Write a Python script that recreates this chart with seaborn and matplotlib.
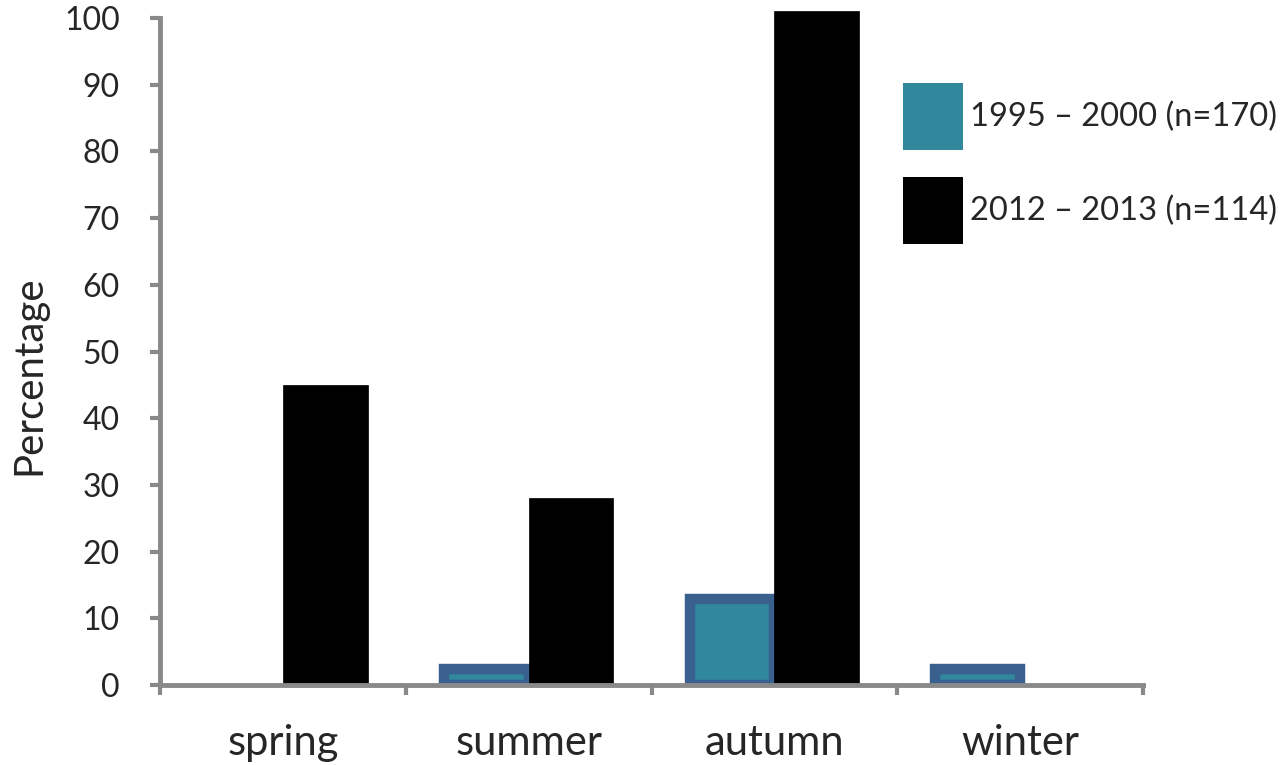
import numpy as np
import pandas as pd
import matplotlib
matplotlib.use('Agg')
import matplotlib.pyplot as plt
import seaborn as sns
from matplotlib.patches import Patch

# data
seasons = ['spring', 'summer', 'autumn', 'winter']
period_labels = ['1995 – 2000 (n=170)', '2012 – 2013 (n=114)']
pct_1995_2000 = [0, 2.4, 12.9, 2.4]
pct_2012_2013 = [45, 28, 101, 0]

df = pd.DataFrame({
    'Season': seasons * 2,
    'Period': [period_labels[0]] * 4 + [period_labels[1]] * 4,
    'Percentage': pct_1995_2000 + pct_2012_2013,
})

sns.set_style('white')
plt.rcParams['font.family'] = ['Lato', 'DejaVu Sans']

teal = '#31879C'
edge_blue = '#3A6090'
spine_grey = '#898989'

fig = plt.figure(figsize=(12.83, 7.65), dpi=100)
ax = fig.add_axes([0.1247, 0.1046, 0.7663, 0.8718])

sns.barplot(data=df, x='Season', y='Percentage', hue='Period',
            palette=[teal, 'black'], saturation=1, width=0.69, gap=0,
            legend=False, ax=ax)

# style the bars: thick blue border on the teal ones
for bar in ax.patches:
    fc = matplotlib.colors.to_hex(bar.get_facecolor())
    if bar.get_height() == 0:
        bar.set_linewidth(0)
        continue
    if fc.lower() == teal.lower():
        bar.set_edgecolor(edge_blue)
        bar.set_linewidth(7.5)
        bar.set_joinstyle('miter')
        bar.set_zorder(1.5)
        bar.set_clip_on(True)
    else:
        bar.set_edgecolor('black')
        bar.set_linewidth(0.5)
        bar.set_zorder(2)
        bar.set_clip_on(False)  # autumn bar pokes above 100

ax.set_ylim(0, 100)
ax.set_xlim(-0.5, 3.5)
ax.set_yticks(range(0, 101, 10))
ax.tick_params(axis='y', labelsize=23, length=7, width=3, color=spine_grey,
               direction='out', left=True, pad=22)

# category boundaries as major ticks, names as minor ticks
ax.set_xticks([-0.5, 0.5, 1.5, 2.5, 3.5])
ax.set_xticklabels([])
ax.set_xticks(range(4), minor=True)
ax.set_xticklabels(seasons, minor=True)
ax.tick_params(axis='x', which='major', length=7, width=3, color=spine_grey,
               direction='out', bottom=True)
ax.tick_params(axis='x', which='minor', length=0, labelsize=30, pad=28)

ax.set_xlabel('')
ax.set_ylabel('Percentage', fontsize=29)
ax.yaxis.set_label_coords(-0.115, 0.465)

for side in ['top', 'right']:
    ax.spines[side].set_visible(False)
for side in ['left', 'bottom']:
    ax.spines[side].set_color(spine_grey)
    ax.spines[side].set_linewidth(3.5)
    ax.spines[side].set_zorder(3)

handles = [Patch(facecolor=teal, edgecolor='none'),
           Patch(facecolor='black', edgecolor='none')]
fig.legend(handles, period_labels, loc='upper left',
           bbox_to_anchor=(0.7038, 0.8915), frameon=False, fontsize=23.5,
           handlelength=1.84, handleheight=2.78, handletextpad=0.2,
           labelspacing=0.83, borderaxespad=0, borderpad=0)

plt.savefig('out.png', dpi=100)
